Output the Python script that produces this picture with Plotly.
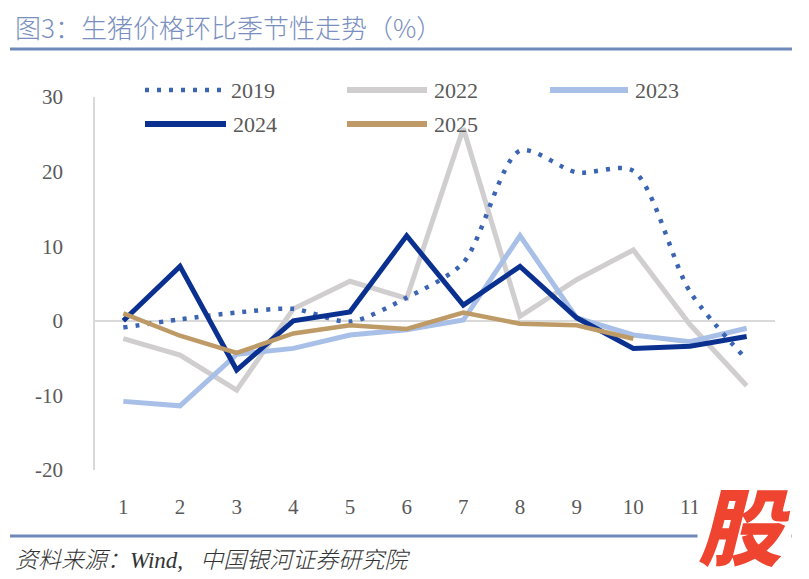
import plotly.graph_objects as go

months = list(range(1, 13))
tick_labels = [str(m) for m in months]

y2019 = [-0.9, 0.2, 1.1, 1.6, -0.1, 3.1, 7.8, 22.8, 19.9, 20.1, 3.9, -5.2]
y2022 = [-2.4, -4.6, -9.3, 1.6, 5.3, 3.0, 25.8, 0.6, 5.5, 9.5, -0.5, -8.7]
y2023 = [-10.8, -11.4, -4.5, -3.7, -1.9, -1.2, 0.1, 11.4, 0.4, -1.9, -2.8, -1.0]
y2024 = [0.0, 7.3, -6.6, 0.0, 1.2, 11.4, 2.1, 7.3, 0.4, -3.7, -3.4, -2.1]
y2025 = [1.0, -2.0, -4.3, -1.7, -0.6, -1.1, 1.1, -0.4, -0.6, -2.4]

C2019 = "#3B64B3"
C2022 = "#D0CECE"
C2023 = "#A8BFE7"
C2024 = "#0B3190"
C2025 = "#BE9A66"

fig = go.Figure()
fig.add_trace(go.Scatter(x=months, y=y2022, mode="lines", name="2022",
                         line=dict(color=C2022, width=5)))
fig.add_trace(go.Scatter(x=months, y=y2023, mode="lines", name="2023",
                         line=dict(color=C2023, width=5)))
fig.add_trace(go.Scatter(x=months, y=y2019, mode="lines", name="2019",
                         line=dict(color=C2019, width=4.5, dash="4px,8px",
                                   shape="spline", smoothing=0.8)))
fig.add_trace(go.Scatter(x=months, y=y2024, mode="lines", name="2024",
                         line=dict(color=C2024, width=5)))
fig.add_trace(go.Scatter(x=months[:len(y2025)], y=y2025, mode="lines", name="2025",
                         line=dict(color=C2025, width=4.5)))

W, H = 809, 579
ml, mr, mt, mb = 95, 34, 97, 109

shapes = []
annotations = []

def to_paper_x(xp):
    return (xp - ml) / (W - ml - mr)

def to_paper_y(yp):
    return (H - mb - yp) / (H - mt - mb)

# header / footer rules
for yy in (49, 536):
    shapes.append(dict(type="line", xref="paper", yref="paper",
                       x0=to_paper_x(10), x1=to_paper_x(792),
                       y0=to_paper_y(yy), y1=to_paper_y(yy),
                       line=dict(color="#6F89BB", width=3)))

# custom legend
legend_items = [
    ("2019", C2019, "4px,8px", 145, 224, 90, 4.5),
    ("2022", C2022, "solid", 347, 427, 90, 6),
    ("2023", C2023, "solid", 550, 628, 90, 6),
    ("2024", C2024, "solid", 145, 226, 124, 6),
    ("2025", C2025, "solid", 347, 427, 124, 6),
]
for name, col, dash, x0, x1, yy, w in legend_items:
    shapes.append(dict(type="line", xref="paper", yref="paper",
                       x0=to_paper_x(x0), x1=to_paper_x(x1),
                       y0=to_paper_y(yy), y1=to_paper_y(yy),
                       line=dict(color=col, width=w, dash=dash)))
    annotations.append(dict(xref="paper", yref="paper", x=to_paper_x(x1 + 5),
                            y=to_paper_y(yy), text=name, showarrow=False,
                            xanchor="left", yanchor="middle",
                            font=dict(family="Liberation Serif", size=22, color="#595959")))

annotations.append(dict(xref="paper", yref="paper", x=to_paper_x(13), y=to_paper_y(26),
                        text="图3：生猪价格环比季节性走势（%）", showarrow=False,
                        xanchor="left", yanchor="middle",
                        font=dict(family="Noto Sans CJK SC", size=26, color="#7A8FC0",
                                  weight=300)))
annotations.append(dict(xref="paper", yref="paper", x=to_paper_x(13), y=to_paper_y(558),
                        text="资料来源：<span style=\"font-family:'Liberation Serif'\">Wind,&nbsp;&nbsp;&nbsp;</span>中国银河证券研究院",
                        showarrow=False,
                        xanchor="left", yanchor="middle",
                        font=dict(family="Noto Sans CJK SC", size=23, color="#333333",
                                  style="italic", weight=300)))
annotations.append(dict(xref="paper", yref="paper", x=to_paper_x(744), y=to_paper_y(522),
                        text="股", showarrow=False,
                        xanchor="center", yanchor="middle",
                        bgcolor="white", borderpad=0,
                        font=dict(family="Noto Sans CJK SC", size=84, color="#EE4430",
                                  style="italic", weight=900)))

fig.update_layout(
    width=W, height=H,
    margin=dict(l=ml, r=mr, t=mt, b=mb),
    plot_bgcolor="white", paper_bgcolor="white",
    showlegend=False,
    shapes=shapes,
    annotations=annotations,
    xaxis=dict(range=[0.5, 12.5], tickmode="array", tickvals=months, ticktext=tick_labels,
               showgrid=False, zeroline=False, showline=False, ticks="",
               ticklabelstandoff=22,
               tickfont=dict(family="Liberation Serif", size=21, color="#595959")),
    yaxis=dict(range=[-20, 30], tickmode="array", tickvals=[-20, -10, 0, 10, 20, 30],
               ticktext=["-20", "-10", "0", "10", "20", "30"],
               showgrid=False, zeroline=True, zerolinecolor="#D9D9D9", zerolinewidth=1.5,
               showline=True, linecolor="#D9D9D9", linewidth=1.5, ticks="",
               ticklabelstandoff=26,
               tickfont=dict(family="Liberation Serif", size=21, color="#595959")),
)

fig.write_html("out.html", config={"displayModeBar": False},
               post_script="document.body.style.margin='0px';document.body.style.padding='0px';")
